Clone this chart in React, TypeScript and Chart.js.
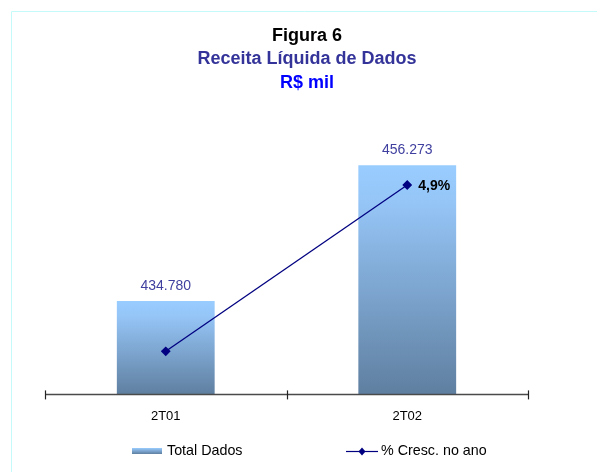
import React, { useEffect, useRef } from "react";
import { Chart, registerables } from "chart.js";

Chart.register(...registerables);

const categories = ["2T01", "2T02"];
const totalDados = [434780, 456273];
const totalDadosLabels = ["434.780", "456.273"];
const crescAno = [0, 4.9];
const crescLabels = ["", "4,9%"];
const titleLines = ["Figura 6", "Receita Líquida de Dados", "R$ mil"];
const legendLabels = ["Total Dados", "% Cresc. no ano"];

const FONT = "'Liberation Sans', Arial, sans-serif";
const NAVY = "#000080";

function barGradient(ctx: CanvasRenderingContext2D, top: number, bottom: number) {
  const g = ctx.createLinearGradient(0, top, 0, bottom);
  g.addColorStop(0, "#99ccff");
  g.addColorStop(0.15, "#96c6f8");
  g.addColorStop(1, "#5f7fa0");
  return g;
}

const decorPlugin = {
  id: "decor",
  beforeDraw(chart: any) {
    const ctx = chart.ctx;
    ctx.save();
    ctx.fillStyle = "#ffffff";
    ctx.fillRect(0, 0, chart.width, chart.height);
    // border (top & left)
    ctx.strokeStyle = "#c4fafa";
    ctx.lineWidth = 1;
    ctx.beginPath();
    ctx.moveTo(11.5, chart.height);
    ctx.lineTo(11.5, 11.5);
    ctx.lineTo(chart.width, 11.5);
    ctx.stroke();
    // titles
    ctx.textAlign = "center";
    ctx.textBaseline = "middle";
    const cx = 307;
    ctx.font = `bold 18px ${FONT}`;
    ctx.fillStyle = "#000000";
    ctx.fillText(titleLines[0], cx, 36);
    ctx.fillStyle = "#333399";
    ctx.fillText(titleLines[1], cx, 59.5);
    ctx.fillStyle = "#0000ff";
    ctx.fillText(titleLines[2], cx, 83);
    ctx.restore();
  },
  afterDraw(chart: any) {
    const ctx = chart.ctx;
    const area = chart.chartArea;
    const xs = chart.scales.x;
    ctx.save();
    // axis line
    ctx.strokeStyle = "#4a4a4a";
    ctx.lineWidth = 1.5;
    ctx.beginPath();
    ctx.moveTo(area.left, area.bottom);
    ctx.lineTo(area.right, area.bottom);
    ctx.stroke();
    // boundary ticks
    const p0 = xs.getPixelForValue(0);
    const p1 = xs.getPixelForValue(1);
    const bounds = [area.left, (p0 + p1) / 2, area.right];
    ctx.lineWidth = 1.2;
    ctx.strokeStyle = "#222";
    bounds.forEach((bx) => {
      const x = Math.round(bx) + 0.5;
      ctx.beginPath();
      ctx.moveTo(x, area.bottom - 4);
      ctx.lineTo(x, area.bottom + 5);
      ctx.stroke();
    });
    // bar value labels
    const barMeta = chart.getDatasetMeta(0);
    ctx.font = `14px ${FONT}`;
    ctx.fillStyle = "#3f3f9f";
    ctx.textAlign = "center";
    ctx.textBaseline = "middle";
    barMeta.data.forEach((el: any, i: number) => {
      ctx.fillText(totalDadosLabels[i], el.x, el.y - 15);
    });
    // line labels
    const lineMeta = chart.getDatasetMeta(1);
    ctx.font = `bold 14px ${FONT}`;
    ctx.fillStyle = "#000000";
    ctx.textAlign = "left";
    lineMeta.data.forEach((el: any, i: number) => {
      if (crescLabels[i]) ctx.fillText(crescLabels[i], el.x + 11, el.y + 1);
    });
    // legend
    const ly = 451;
    const g = ctx.createLinearGradient(0, ly - 3, 0, ly + 3);
    g.addColorStop(0, "#99ccff");
    g.addColorStop(1, "#5f7fa0");
    ctx.fillStyle = g;
    ctx.fillRect(132, ly - 3, 30, 6);
    ctx.font = `14.3px ${FONT}`;
    ctx.fillStyle = "#000000";
    ctx.textAlign = "left";
    ctx.fillText(legendLabels[0], 167, ly);
    ctx.strokeStyle = NAVY;
    ctx.lineWidth = 1.2;
    ctx.beginPath();
    ctx.moveTo(346, ly + 0.5);
    ctx.lineTo(378, ly + 0.5);
    ctx.stroke();
    ctx.fillStyle = NAVY;
    ctx.beginPath();
    ctx.moveTo(362, ly - 3.5);
    ctx.lineTo(365.5, ly + 0.5);
    ctx.lineTo(362, ly + 4.5);
    ctx.lineTo(358.5, ly + 0.5);
    ctx.closePath();
    ctx.fill();
    ctx.fillStyle = "#000000";
    ctx.fillText(legendLabels[1], 381, ly);
    ctx.restore();
  },
};

export default function App() {
  const ref = useRef<HTMLCanvasElement | null>(null);
  useEffect(() => {
    if (!ref.current) return;
    const chart = new Chart(ref.current, {
      type: "bar",
      data: {
        labels: categories,
        datasets: [
          {
            type: "bar",
            label: legendLabels[0],
            data: totalDados,
            yAxisID: "y",
            order: 2,
            categoryPercentage: 1,
            barPercentage: 0.405,
            backgroundColor: (c: any) => {
              const ch = c.chart;
              const area = ch.chartArea;
              if (!area || c.raw == null) return "#7fa6cc";
              const top = ch.scales.y.getPixelForValue(c.raw);
              return barGradient(ch.ctx, top, area.bottom);
            },
            borderWidth: 0,
          },
          {
            type: "line",
            label: legendLabels[1],
            data: crescAno,
            yAxisID: "y1",
            order: 1,
            borderColor: NAVY,
            backgroundColor: NAVY,
            borderWidth: 1.3,
            pointStyle: "rectRot",
            pointRadius: 4,
            pointBackgroundColor: NAVY,
            pointBorderColor: NAVY,
            tension: 0,
          },
        ],
      },
      options: {
        animation: false,
        responsive: false,
        maintainAspectRatio: false,
        layout: { padding: { left: 45, right: 69, top: 110, bottom: 34 } },
        plugins: {
          legend: { display: false },
          title: { display: false },
          tooltip: { enabled: false },
        },
        scales: {
          x: {
            grid: { display: false, drawTicks: false },
            border: { display: false },
            ticks: {
              color: "#000000",
              padding: 14,
              font: { family: FONT, size: 13 },
            },
          },
          y: {
            display: false,
            min: 420000,
            max: 465000,
          },
          y1: {
            display: false,
            min: -1.27,
            max: 7.11,
          },
        },
      },
      plugins: [decorPlugin],
    });
    return () => chart.destroy();
  }, []);
  return (
    <div style={{ position: "fixed", left: 0, top: 0, width: 597, height: 472 }}>
      <canvas ref={ref} width={597} height={472} style={{ width: 597, height: 472 }} />
    </div>
  );
}
